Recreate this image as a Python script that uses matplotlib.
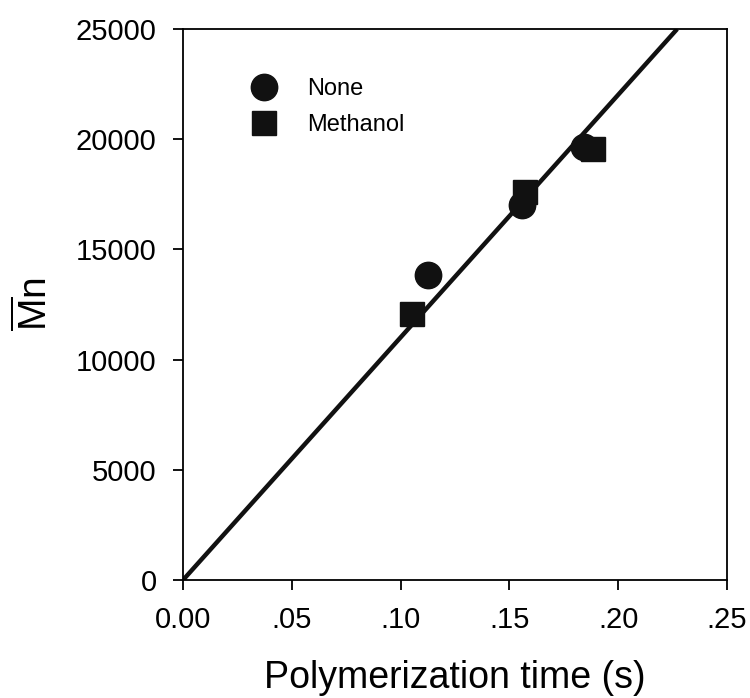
import numpy as np
import matplotlib
matplotlib.use('Agg')
import matplotlib.pyplot as plt

plt.rcParams['font.family'] = ['Liberation Sans', 'DejaVu Sans']
plt.rcParams['mathtext.fontset'] = 'custom'
plt.rcParams['mathtext.rm'] = 'Liberation Sans'

# datos
none_t = [0.1126, 0.1557, 0.1845]
none_mn = [13860, 17030, 19650]
meoh_t = [0.1053, 0.1571, 0.1886]
meoh_mn = [12090, 17620, 19570]
fit_t = [0.0, 0.2271]
fit_mn = [0.0, 25000]

xticks = [0.0, 0.05, 0.10, 0.15, 0.20, 0.25]
xticklabels = ['0.00', '.05', '.10', '.15', '.20', '.25']
yticks = [0, 5000, 10000, 15000, 20000, 25000]

fig = plt.figure(figsize=(7.5, 6.98), dpi=100)
ax = fig.add_axes([0.2440, 0.1690, 0.7253, 0.7894])

ax.plot(fit_t, fit_mn, color='#111111', lw=3.2, solid_capstyle='butt', zorder=2)
ax.plot(none_t, none_mn, 'o', color='#111111', ms=19, ls='none', label='None', zorder=3)
ax.plot(meoh_t, meoh_mn, 's', color='#111111', ms=17, ls='none', label='Methanol', zorder=3)

ax.set_xlim(0, 0.25)
ax.set_ylim(0, 25000)
ax.set_xticks(xticks)
ax.set_xticklabels(xticklabels)
ax.set_yticks(yticks)
ax.tick_params(direction='out', length=7, width=1.3, labelsize=21)
ax.tick_params(axis='x', pad=12)
ax.tick_params(axis='y', pad=12)
for s in ax.spines.values():
    s.set_linewidth(1.3)

ax.set_xlabel('Polymerization time (s)', fontsize=27)
ax.set_ylabel(r'$\overline{\mathrm{M}}\mathrm{n}$', fontsize=28)
ax.xaxis.set_label_coords(0.5, -0.146)
ax.yaxis.set_label_coords(-0.235, 0.5)

ax.legend(loc='upper left', bbox_to_anchor=(0.067, 0.95), frameon=False, fontsize=17,
          handletextpad=0.8, labelspacing=0.62, markerscale=1.0)

plt.savefig('out.png', dpi=100)
